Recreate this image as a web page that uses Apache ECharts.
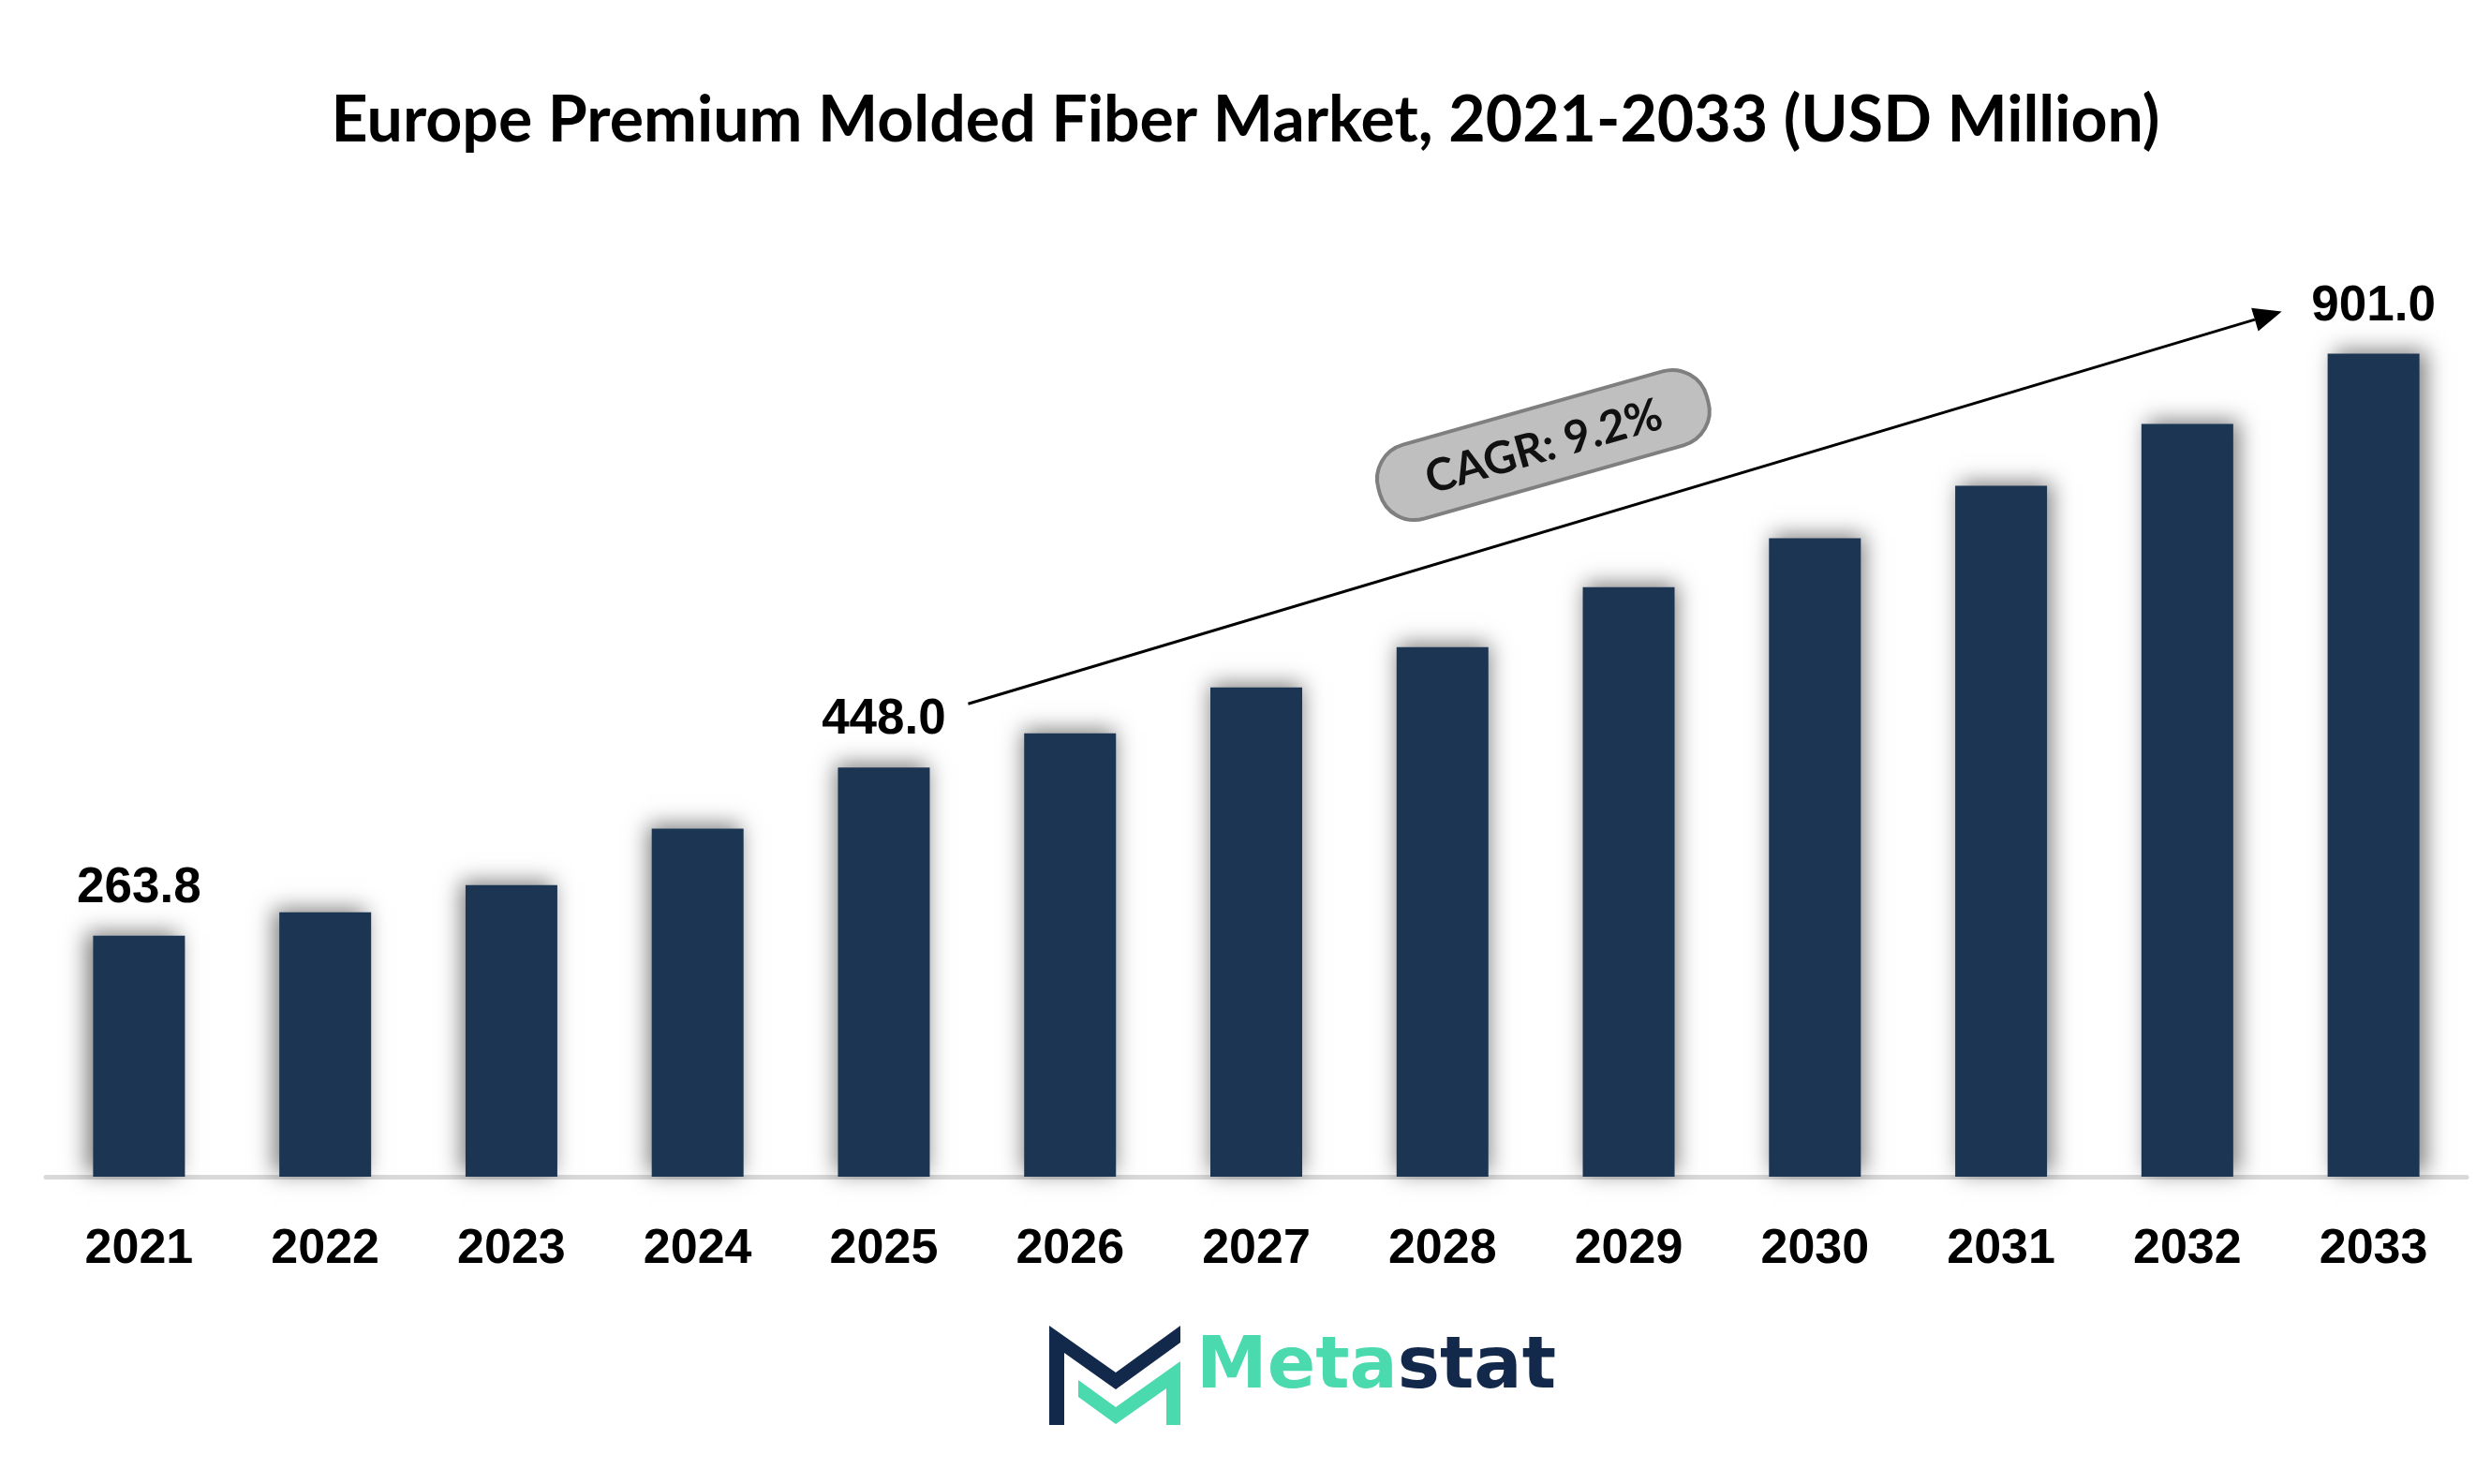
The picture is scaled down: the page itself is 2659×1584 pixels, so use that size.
<!DOCTYPE html>
<html>
<head>
<meta charset="utf-8">
<title>Europe Premium Molded Fiber Market</title>
<style>
html, body { margin: 0; padding: 0; background: #ffffff; }
#chart { width: 2659px; height: 1584px; }
</style>
<script src="https://cdn.jsdelivr.net/npm/echarts@6.0.0/dist/echarts.min.js"></script>
</head>
<body>
<div id="chart"></div>
<script>
// data (USD Million)
var years = ['2021', '2022', '2023', '2024', '2025', '2026', '2027', '2028', '2029', '2030', '2031', '2032', '2033'];
var values = [263.8, 289.5, 319.2, 381.1, 448.0, 485.4, 535.7, 579.8, 645.5, 698.9, 756.4, 824.1, 901.0];
var labelledYears = ['2021', '2025', '2033'];
var cagrText = 'CAGR: 9.2%';
var titleText = 'Europe Premium Molded Fiber Market, 2021-2033 (USD Million)';

var barColor = '#1b3553';
var navy = '#13294b';
var teal = '#4bd9ae';

var myChart = echarts.init(document.getElementById('chart'));

var barData = [];
for (var i = 0; i < values.length; i++) {
	barData.push({
		value: values[i],
		label: { show: labelledYears.indexOf(years[i]) >= 0 },
		itemStyle: {
			// shadow leans outward from the middle of the chart
			shadowOffsetX: Math.round((i - 6) * 1.2),
			shadowOffsetY: -4
		}
	});
}

var option = {
	backgroundColor: '#ffffff',
	animation: false,
	title: {
		text: titleText,
		left: 'center',
		top: 90,
		textStyle: {
			fontFamily: 'Lato',
			fontWeight: 'bold',
			fontSize: 68,
			color: '#000000'
		}
	},
	grid: {
		left: 49,
		right: 26,
		top: 281,
		bottom: 328
	},
	xAxis: {
		type: 'category',
		data: years,
		axisLine: {
			lineStyle: { color: '#d9d9d9', width: 5 }
		},
		axisTick: { show: false },
		axisLabel: {
			margin: 52,
			fontFamily: 'Liberation Sans',
			fontWeight: 'bold',
			fontSize: 52,
			color: '#000000'
		}
	},
	yAxis: {
		type: 'value',
		min: 0,
		max: 1000,
		show: false,
		splitLine: { show: false }
	},
	series: [{
		name: 'Market',
		type: 'bar',
		barWidth: 98,
		data: barData,
		itemStyle: {
			color: barColor,
			shadowBlur: 22,
			shadowColor: 'rgba(0, 0, 0, 0.5)'
		},
		label: {
			position: 'top',
			distance: 24,
			fontFamily: 'Liberation Sans',
			fontWeight: 'bold',
			fontSize: 53,
			color: '#000000',
			formatter: function(params) {
				return params.value.toFixed(1);
			}
		}
	}]
};
myChart.setOption(option);

function drawAnnotations() {
	var first = years.indexOf('2025');
	var last = years.length - 1;
	var p0 = myChart.convertToPixel({ seriesIndex: 0 }, [years[first], values[first]]);
	var p1 = myChart.convertToPixel({ seriesIndex: 0 }, [years[last], values[last]]);
	// arrow from beside the 2025 label up to beside the 2033 label
	var sx = p0[0] + 90, sy = p0[1] - 68;
	var ex = p1[0] - 98, ey = p1[1] - 45;
	var dx = ex - sx, dy = ey - sy;
	var len = Math.sqrt(dx * dx + dy * dy);
	var ux = dx / len, uy = dy / len;
	var nx = uy, ny = -ux; // normal pointing up
	var head = 30, half = 13;
	var bx = ex - ux * head, by = ey - uy * head;
	var angle = Math.atan2(-dy, dx);

	// CAGR pill sits a little above the middle of the arrow
	var t = 0.456, off = 89;
	var cx = sx + ux * len * t + nx * off;
	var cy = sy + uy * len * t + ny * off;

	myChart.setOption({
		graphic: [
			{
				type: 'line',
				shape: { x1: sx, y1: sy, x2: bx, y2: by },
				style: { stroke: '#000000', lineWidth: 3 },
				z: 10
			},
			{
				type: 'polygon',
				shape: {
					points: [[ex, ey], [bx + nx * half, by + ny * half], [bx - nx * half, by - ny * half]]
				},
				style: { fill: '#000000' },
				z: 10
			},
			{
				type: 'group',
				x: cx,
				y: cy,
				rotation: angle - 0.015,
				z: 10,
				children: [
					{
						type: 'rect',
						shape: { x: -182, y: -41, width: 364, height: 82, r: 38 },
						style: { fill: '#bfbfbf', stroke: '#7f7f7f', lineWidth: 4 }
					},
					{
						type: 'text',
						x: 0,
						y: 2,
						style: {
							text: cagrText,
							align: 'center',
							verticalAlign: 'middle',
							fontFamily: 'Lato',
							fontWeight: 'bold',
							fontSize: 48,
							fill: '#111111'
						}
					}
				]
			},
			// Metastat logo
			{
				type: 'polygon',
				shape: {
					points: [[1120, 1415], [1191, 1465], [1260, 1415], [1260, 1433], [1191, 1483], [1136, 1444], [1136, 1521], [1120, 1521]]
				},
				style: { fill: navy }
			},
			{
				type: 'polygon',
				shape: {
					points: [[1151, 1473], [1191, 1502], [1260, 1453], [1260, 1521], [1245, 1521], [1245, 1482], [1191, 1520], [1151, 1491]]
				},
				style: { fill: teal }
			},
			{
				type: 'text',
				x: 1277,
				y: 1499,
				style: {
					text: '{a|Meta}{b|stat}',
					verticalAlign: 'bottom',
					rich: {
						a: { fontFamily: 'DejaVu Sans', fontWeight: 'bold', fontSize: 76, fill: teal },
						b: { fontFamily: 'DejaVu Sans', fontWeight: 'bold', fontSize: 76, fill: navy }
					}
				}
			}
		]
	});
}
drawAnnotations();

window.onresize = function() {
	myChart.resize();
	drawAnnotations();
};
</script>
</body>
</html>
